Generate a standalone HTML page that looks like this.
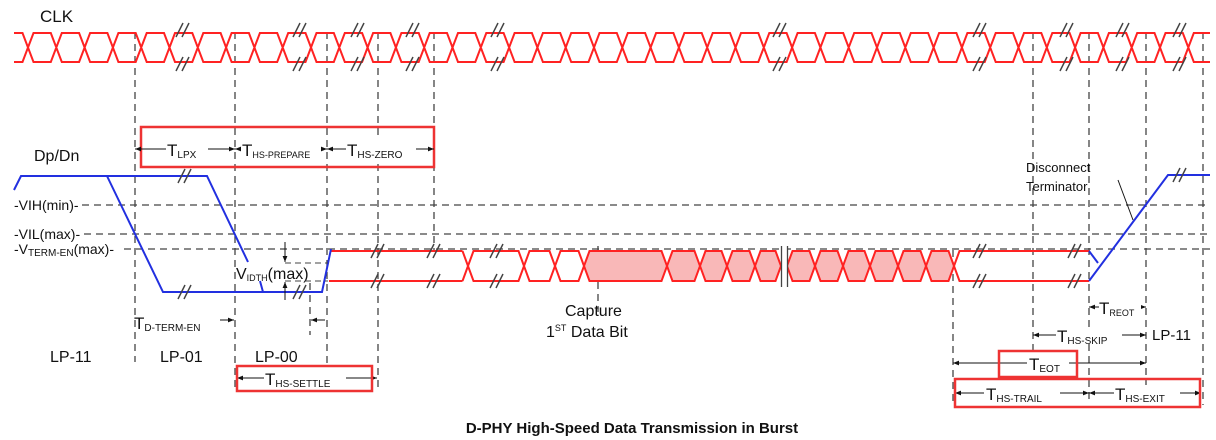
<!DOCTYPE html>
<html><head><meta charset="utf-8"><style>
html,body{margin:0;padding:0;background:#fff}
svg{display:block}
text{font-family:"Liberation Sans",Arial,sans-serif;fill:#111}
</style></head><body>
<svg id="c" width="1216" height="440" viewBox="0 0 1216 440" xmlns="http://www.w3.org/2000/svg">
<g id="grid"></g>
<g id="clk"></g>
<g id="lane"></g>
<g id="ann"></g>
</svg>
<script>
const clkBreaks=[183,300,358,413,498,780,980,1067,1123,1180];
const vLines=[[135,32,362],[235,32,392],[327,32,366],[378,32,392],[434,32,252],[598,246,312],[1033,32,356],[1089,32,400],[1146,32,395],[1203,32,405],[953,250,405],[310,283,335]];
const hLevels=[["VIH",205],["VIL",234],["VTERM",249]];
const laneCross=[468,524,555,584,667,700,727,755,781,787,815,843,870,898,926,954];
const hatchStart=584;
const NS="http://www.w3.org/2000/svg";
function el(p,t,a){const e=document.createElementNS(NS,t);for(const k in a)e.setAttribute(k,a[k]);p.appendChild(e);return e;}
const G=document.getElementById('grid'),C=document.getElementById('clk'),L=document.getElementById('lane'),A=document.getElementById('ann');
const dash={stroke:'#444','stroke-width':1.3,'stroke-dasharray':'7,5',fill:'none'};
vLines.forEach(v=>{const e=el(G,'line',Object.assign({x1:v[0],x2:v[0],y1:v[1],y2:v[2]},dash));

});
hLevels.forEach(h=>{const x0=h[0]=="VIH"?82:h[0]=="VIL"?84:124;const e=el(G,'line',Object.assign({x1:x0,x2:1210,y1:h[1],y2:h[1]},dash));

});
// clock
const cT=33,cB=62,hw=5.5,P=28.3;
let dA="M14 "+cT,dB="M14 "+cB,lvA=cT,lvB=cB;
for(let x=28;x<1205;x+=P){const nA=lvA==cT?cB:cT,nB=lvB==cT?cB:cT;
 dA+=` L${(x-hw).toFixed(1)} ${lvA} L${(x+hw).toFixed(1)} ${nA}`;dB+=` L${(x-hw).toFixed(1)} ${lvB} L${(x+hw).toFixed(1)} ${nB}`;lvA=nA;lvB=nB;}
dA+=` L1210 ${lvA}`;dB+=` L1210 ${lvB}`;
let ct=el(C,'path',{d:dA+" "+dB,stroke:'#f22','stroke-width':2,fill:'none'});


function brk(p,x,y){for(const o of [-4,2]){el(p,'line',{x1:x+o-3,y1:y+7,x2:x+o+4,y2:y-7,stroke:'#444','stroke-width':1.5});}}
clkBreaks.forEach(x=>{brk(C,x,30);brk(C,x,64);});
// data lane
const uT=251,uB=281;
let d="M331 "+uT+" L"+(laneCross[0]-hw)+" "+uT+" M329 "+uB+" L"+(laneCross[0]-hw)+" "+uB;
for(let i=0;i<laneCross.length-1;i++){const a=laneCross[i],b=laneCross[i+1];
 const poly=`M${a} ${(uT+uB)/2} L${a+hw} ${uT} L${b-hw} ${uT} L${b} ${(uT+uB)/2} L${b-hw} ${uB} L${a+hw} ${uB} Z`;
 if(b-a<10) continue;
 const e=el(L,'path',{d:poly,stroke:'#f22','stroke-width':2,fill:a>=hatchStart?'#f9b8b8':'none'});
 
 }
d+=` M${laneCross[0]-hw} ${uT} L${laneCross[0]} ${(uT+uB)/2} M${laneCross[0]-hw} ${uB} L${laneCross[0]} ${(uT+uB)/2}`;
const last=laneCross[laneCross.length-1];
d+=` M${last} ${(uT+uB)/2} L${last+hw} ${uT} L1089 ${uT} M${last} ${(uT+uB)/2} L${last+hw} ${uB} L1089 ${uB}`;
const lp=el(L,'path',{d:d,stroke:'#f22','stroke-width':2,fill:'none'});


[784.5].forEach(x=>{el(L,'rect',{x:x-3,y:246,width:6,height:41,fill:'#fff'});el(L,'line',{x1:x-3,x2:x-3,y1:246,y2:287,stroke:'#444','stroke-width':1.3});el(L,'line',{x1:x+3,x2:x+3,y1:246,y2:287,stroke:'#444','stroke-width':1.3});});
[378,434,497,980,1075].forEach(x=>{brk(L,x,uT);brk(L,x,uB);});
// blue LP
const bp=el(L,'path',{d:"M14 190 L21 176 L207 176 L248 262 M107 176 L163 292 L322 292 L331 249 M260 281 L263 292 M1089 251 L1098 263 M1089 281 L1168 175 L1210 175",stroke:'#2230e0','stroke-width':2,fill:'none'});


[[185,176],[185,292],[300,292],[1180,175]].forEach(p=>brk(L,p[0],p[1]));
</script>
<svg width="1216" height="440" style="position:absolute;left:0;top:0">
<defs><marker id="ar" viewBox="0 0 10 10" refX="10" refY="5" markerWidth="6" markerHeight="6" orient="auto-start-reverse"><path d="M0 1 L10 5 L0 9 Z" fill="#111"/></marker></defs>
<text x="40" y="22" font-size="17">CLK</text>
<text x="34" y="161" font-size="16">Dp/Dn</text>
<text x="14" y="210" font-size="14">-VIH(min)-</text>
<text x="14" y="239" font-size="14">-VIL(max)-</text>
<text x="14" y="254" font-size="14">-V<tspan font-size="10" dy="2">TERM-EN</tspan><tspan dy="-2">(max)-</tspan></text>
<rect x="141" y="127" width="293" height="40" fill="none" stroke="#e33" stroke-width="2.5"/>
<g stroke="#111" stroke-width="1" marker-start="url(#ar)" marker-end="url(#ar)">
<line x1="135" y1="149" x2="235" y2="149"/><line x1="235" y1="149" x2="327" y2="149"/><line x1="327" y1="149" x2="434" y2="149"/>
<line x1="237" y1="378" x2="377" y2="378"/>
<line x1="1089" y1="307" x2="1146" y2="307"/><line x1="1033" y1="335" x2="1146" y2="335"/><line x1="953" y1="363" x2="1146" y2="363"/>
<line x1="955" y1="393" x2="1089" y2="393"/><line x1="1089" y1="393" x2="1201" y2="393"/>
</g>
<g font-size="17">
<rect x="166" y="140" width="42" height="20" fill="#fff"/><text x="167" y="156">T<tspan font-size="10" dy="2">LPX</tspan></text>
<rect x="241" y="142" width="80" height="16" fill="#fff"/><text x="242" y="156">T<tspan font-size="9" dy="2">HS-PREPARE</tspan></text>
<rect x="346" y="140" width="70" height="20" fill="#fff"/><text x="347" y="156">T<tspan font-size="10" dy="2">HS-ZERO</tspan></text>
<text x="134" y="329">T<tspan font-size="10" dy="2">D-TERM-EN</tspan></text>
<text x="236" y="279" font-size="16">V<tspan font-size="9" dy="2">IDTH</tspan><tspan dy="-2">(max)</tspan></text>
<text x="50" y="362" font-size="16">LP-11</text><text x="160" y="362" font-size="16">LP-01</text><text x="255" y="362" font-size="16">LP-00</text>
<rect x="264" y="370" width="82" height="16" fill="#fff"/><text x="265" y="385">T<tspan font-size="10" dy="2">HS-SETTLE</tspan></text>
<text x="565" y="316" font-size="16">Capture</text><text x="546" y="337" font-size="16">1<tspan font-size="9" dy="-6">ST</tspan><tspan dy="6"> Data Bit</tspan></text>
<text x="1026" y="172" font-size="13">Disconnect</text><text x="1026" y="191" font-size="13">Terminator</text>
<rect x="1099" y="300" width="42" height="16" fill="#fff"/><text x="1099" y="314">T<tspan font-size="9" dy="2">REOT</tspan></text>
<rect x="1056" y="327" width="66" height="16" fill="#fff"/><text x="1057" y="342">T<tspan font-size="10" dy="2">HS-SKIP</tspan></text>
<text x="1152" y="340" font-size="15">LP-11</text>
<rect x="1027" y="355" width="42" height="16" fill="#fff"/><text x="1029" y="370">T<tspan font-size="10" dy="2">EOT</tspan></text>
<rect x="984" y="385" width="76" height="16" fill="#fff"/><text x="986" y="400">T<tspan font-size="10" dy="2">HS-TRAIL</tspan></text>
<rect x="1114" y="385" width="66" height="16" fill="#fff"/><text x="1115" y="400">T<tspan font-size="10" dy="2">HS-EXIT</tspan></text>
</g>
<g stroke="#111" stroke-width="1">
<line x1="1118" y1="180" x2="1133" y2="220"/>
<line x1="285" y1="242" x2="285" y2="262" marker-end="url(#ar)"/><line x1="285" y1="300" x2="285" y2="282" marker-end="url(#ar)"/>
<line x1="325" y1="320" x2="311" y2="320" marker-end="url(#ar)"/>
<line x1="220" y1="320" x2="234" y2="320" marker-end="url(#ar)"/>
<line x1="285" y1="263" x2="328" y2="263" stroke-dasharray="6,4" stroke="#444"/><line x1="285" y1="281" x2="328" y2="281" stroke-dasharray="6,4" stroke="#444"/>
</g>
<rect x="237" y="366" width="135" height="25" fill="none" stroke="#e33" stroke-width="2.5"/>
<rect x="999" y="351" width="78" height="26" fill="none" stroke="#e33" stroke-width="2.5"/>
<rect x="955" y="379" width="245" height="28" fill="none" stroke="#e33" stroke-width="2.5"/>
<text x="632" y="433" font-size="15" font-weight="bold" text-anchor="middle">D-PHY High-Speed Data Transmission in Burst</text>
</svg>
</body></html>
